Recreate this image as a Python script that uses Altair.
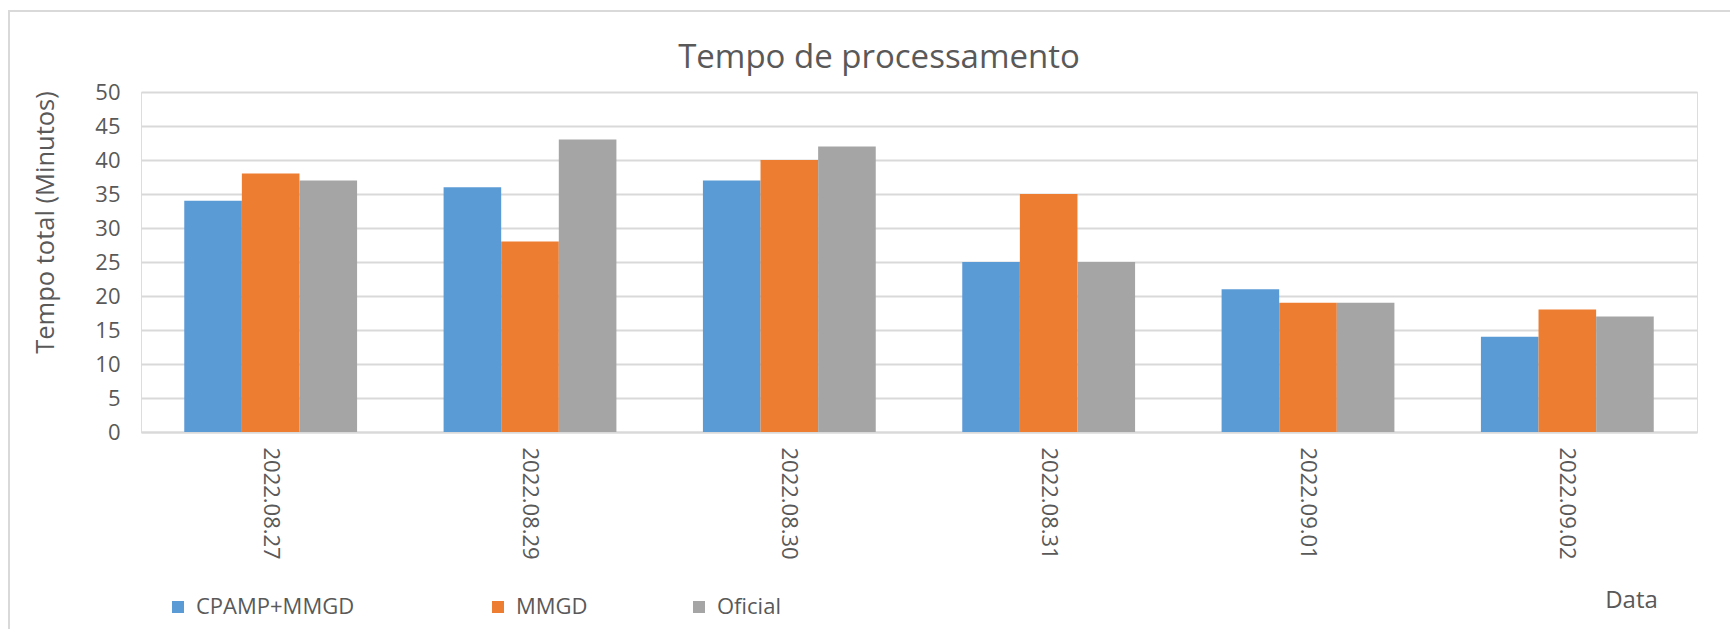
import altair as alt
import pandas as pd

# Processing time per day (minutes), one list per pipeline
dates = ["2022.08.27", "2022.08.29", "2022.08.30", "2022.08.31", "2022.09.01", "2022.09.02"]
series_names = ["CPAMP+MMGD", "MMGD", "Oficial"]
cpamp_mmgd = [34, 36, 37, 25, 21, 14]
mmgd = [38, 28, 40, 35, 19, 18]
oficial = [37, 43, 42, 25, 19, 17]
series_colors = ["#5B9BD5", "#ED7D31", "#A5A5A5"]
y_ticks = [0, 5, 10, 15, 20, 25, 30, 35, 40, 45, 50]

rows = []
for name, values in zip(series_names, [cpamp_mmgd, mmgd, oficial]):
    for d, v in zip(dates, values):
        rows.append({"Data": d, "Serie": name, "Tempo": v})
df = pd.DataFrame(rows)

FONT = "Open Sans"
TEXT = "#595959"
GRID = "#D9D9D9"

# pad the first legend entry with blank cells so the entries sit in wider columns
legend_label = (
    "datum.label == 'CPAMP+MMGD' ? datum.label + '\u2800\u2800' : datum.label"
)

bars = alt.Chart(df).mark_bar().encode(
    x=alt.X(
        "Data:N",
        sort=dates,
        scale=alt.Scale(paddingInner=0.3336, paddingOuter=0.1668),
        axis=alt.Axis(
            title="Data",
            titleFont=FONT,
            titleFontSize=24,
            titleFontWeight="normal",
            titleColor=TEXT,
            titleX=1490,
            titleY=175,
            titleAlign="center",
            titleBaseline="alphabetic",
            labelAngle=90,
            labelAlign="left",
            labelBaseline="middle",
            labelFont=FONT,
            labelFontSize=22,
            labelColor=TEXT,
            labelPadding=15,
            ticks=False,
            domainColor=GRID,
            domainWidth=2,
            grid=False,
        ),
    ),
    xOffset=alt.XOffset(
        "Serie:N",
        sort=series_names,
        scale=alt.Scale(paddingInner=0, paddingOuter=0),
    ),
    y=alt.Y(
        "Tempo:Q",
        scale=alt.Scale(domain=[0, 50], nice=False),
        axis=alt.Axis(
            title="Tempo total (Minutos)",
            titleFont=FONT,
            titleFontSize=25.5,
            titleFontWeight="normal",
            titleColor=TEXT,
            titleAngle=270,
            titleX=-88,
            titleY=130,
            titleAlign="center",
            titleBaseline="alphabetic",
            values=y_ticks,
            labelFont=FONT,
            labelFontSize=22,
            labelColor=TEXT,
            labelPadding=21,
            ticks=False,
            domain=False,
            gridColor=GRID,
            gridWidth=2,
        ),
    ),
    color=alt.Color(
        "Serie:N",
        sort=series_names,
        scale=alt.Scale(domain=series_names, range=series_colors),
        legend=alt.Legend(
            title=None,
            orient="none",
            direction="horizontal",
            legendX=26,
            legendY=504,
            padding=0,
            symbolType="square",
            symbolSize=144,
            symbolStrokeWidth=0,
            symbolOpacity=1,
            labelFont=FONT,
            labelFontSize=22,
            labelColor=TEXT,
            labelOffset=7,
            labelLimit=400,
            labelExpr=legend_label,
            columnPadding=100,
        ),
    ),
)

# Light frame around the whole chart area
frame = alt.Chart(pd.DataFrame({"k": [0]})).mark_rect(
    fill=None, stroke=GRID, strokeWidth=2
).encode(
    x=alt.value(-132), x2=alt.value(1620),
    y=alt.value(-81), y2=alt.value(560),
)

chart = alt.layer(frame, bars).properties(
    width=1556,
    height=340,
    padding={"left": 141, "top": 92, "right": 33, "bottom": 197},
    autosize=alt.AutoSizeParams(type="none"),
    title=alt.TitleParams(
        "Tempo de processamento",
        font=FONT,
        fontSize=33,
        fontWeight="normal",
        color=TEXT,
        anchor="middle",
        dx=-40,
        offset=0,
        dy=91,
        baseline="alphabetic",
    ),
).configure_view(stroke=None).configure(background="white")

chart.save("out.html", embed_options={"renderer": "svg", "actions": False})
